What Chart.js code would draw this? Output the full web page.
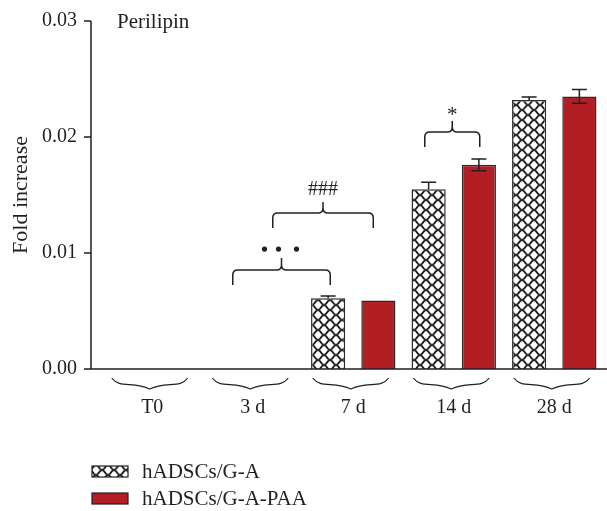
<!DOCTYPE html>
<html>
<head>
<meta charset="utf-8">
<script src="https://cdn.jsdelivr.net/npm/chart.js@4.4.0/dist/chart.umd.min.js"></script>
<style>
    html, body { margin: 0; padding: 0; background: #fff; }
    #wrap { width: 607px; height: 511px; }
</style>
</head>
<body>
<div id="wrap"><canvas id="barChart" width="607" height="511"></canvas></div>
<script>
// Data
const categories = ['T0', '3 d', '7 d', '14 d', '28 d'];
const seriesNames = ['hADSCs/G-A', 'hADSCs/G-A-PAA'];
const gaValues = [0, 0, 0.0061, 0.0155, 0.0232];
const gaErrors = [0, 0, 0.0002, 0.0006, 0.00025];
const paaValues = [0, 0, 0.0059, 0.0176, 0.0235];
const paaErrors = [0, 0, 0, 0.0005, 0.0006];
const yTickLabels = ['0.00', '0.01', '0.02', '0.03'];

const FONT = '"Liberation Serif", "Times New Roman", serif';
const INK = '#231f20';
const RED = '#b11f24';

// significance brackets: x as category index + pixel offset, y in data units
const brackets = [
    { from: [1, -20], to: [2, -23], top: 0.00853, end: 0.00724, peak: 0.00957, mark: 'dots', markY: 0.01034 },
    { from: [1, 20], to: [2, 20], top: 0.01345, end: 0.01216, peak: 0.0144, mark: '###', markY: 0.01543 },
    { from: [3, -29], to: [3, 26], top: 0.02043, end: 0.01914, peak: 0.02138, mark: '*', markY: 0.02233 }
];

const canvas = document.getElementById('barChart');
const mainCtx = canvas.getContext('2d');

function makeHatch() {
    const c = document.createElement('canvas');
    c.width = 12; c.height = 10;
    const g = c.getContext('2d');
    g.fillStyle = '#fff';
    g.fillRect(0, 0, 12, 10);
    g.strokeStyle = '#1a1a1a';
    g.lineWidth = 1.2;
    [[0, 0], [12, 0], [0, 10], [12, 10], [6, 5]].forEach(function(p) {
        g.beginPath();
        g.arc(p[0], p[1], 4.3, 0, Math.PI * 2);
        g.stroke();
    });
    return mainCtx.createPattern(c, 'repeat');
}
const hatch = makeHatch();

function curlyDown(ctx, x1, x2, y0, h) {
    const w = x2 - x1, cx = (x1 + x2) / 2;
    ctx.beginPath();
    ctx.moveTo(x1, y0);
    ctx.bezierCurveTo(x1 + 0.1 * w, y0 + 0.95 * h, cx - 0.22 * w, y0 + 0.3 * h, cx, y0 + h);
    ctx.bezierCurveTo(cx + 0.22 * w, y0 + 0.3 * h, x2 - 0.1 * w, y0 + 0.95 * h, x2, y0);
    ctx.stroke();
}

function bracketUp(ctx, x1, x2, yTop, yEnd, yPeak) {
    const r = 5, cx = (x1 + x2) / 2;
    ctx.beginPath();
    ctx.moveTo(x1, yEnd);
    ctx.lineTo(x1, yTop + r);
    ctx.quadraticCurveTo(x1, yTop, x1 + r, yTop);
    ctx.lineTo(cx - r, yTop);
    ctx.quadraticCurveTo(cx, yTop, cx, yTop - r);
    ctx.lineTo(cx, yPeak);
    ctx.moveTo(cx, yTop - r);
    ctx.quadraticCurveTo(cx, yTop, cx + r, yTop);
    ctx.lineTo(x2 - r, yTop);
    ctx.quadraticCurveTo(x2, yTop, x2, yTop + r);
    ctx.lineTo(x2, yEnd);
    ctx.stroke();
}

const decorations = {
    id: 'decorations',
    afterDatasetsDraw: function(chart) {
        const ctx = chart.ctx;
        const xs = chart.scales.x, ys = chart.scales.y;
        const area = chart.chartArea;
        const values = [gaValues, paaValues];
        const errors = [gaErrors, paaErrors];

        ctx.save();
        ctx.strokeStyle = INK;
        ctx.lineWidth = 1.5;

        // error bars
        [0, 1].forEach(function(d) {
            chart.getDatasetMeta(d).data.forEach(function(bar, i) {
                const err = errors[d][i];
                if (!err) return;
                const yt = ys.getPixelForValue(values[d][i] + err);
                const yb = d === 0 ? bar.y : ys.getPixelForValue(values[d][i] - err);
                ctx.beginPath();
                ctx.moveTo(bar.x, yb);
                ctx.lineTo(bar.x, yt);
                ctx.moveTo(bar.x - 7.5, yt);
                ctx.lineTo(bar.x + 7.5, yt);
                if (d === 1) {
                    ctx.moveTo(bar.x - 7.5, yb);
                    ctx.lineTo(bar.x + 7.5, yb);
                }
                ctx.stroke();
            });
        });

        // axes
        const axisX = 91;
        ctx.beginPath();
        ctx.moveTo(axisX, ys.getPixelForValue(0.03));
        ctx.lineTo(axisX, area.bottom);
        ctx.moveTo(axisX - 3, area.bottom);
        ctx.lineTo(chart.width, area.bottom);
        yTickLabels.forEach(function(t, i) {
            const y = ys.getPixelForValue(i * 0.01);
            ctx.moveTo(axisX - 7, y);
            ctx.lineTo(axisX, y);
        });
        ctx.stroke();

        // braces under each category
        ctx.lineWidth = 1.2;
        categories.forEach(function(c, i) {
            const cx = xs.getPixelForValue(i) - 2.5;
            curlyDown(ctx, cx - 38, cx + 38, area.bottom + 9, 11);
        });

        // significance brackets
        ctx.lineWidth = 1.5;
        ctx.fillStyle = INK;
        brackets.forEach(function(b) {
            const x1 = xs.getPixelForValue(b.from[0]) + b.from[1];
            const x2 = xs.getPixelForValue(b.to[0]) + b.to[1];
            const cx = (x1 + x2) / 2;
            bracketUp(ctx, x1, x2, ys.getPixelForValue(b.top), ys.getPixelForValue(b.end), ys.getPixelForValue(b.peak));
            const my = ys.getPixelForValue(b.markY);
            if (b.mark === 'dots') {
                [-17, -3, 15].forEach(function(dx) {
                    ctx.beginPath();
                    ctx.arc(cx + dx, my, 2.6, 0, Math.PI * 2);
                    ctx.fill();
                });
            } else if (b.mark === '*') {
                ctx.font = '21px ' + FONT;
                ctx.textAlign = 'center';
                ctx.textBaseline = 'alphabetic';
                ctx.fillText('*', cx, my + 11);
            } else {
                ctx.font = '20px ' + FONT;
                ctx.textAlign = 'center';
                ctx.textBaseline = 'middle';
                ctx.fillText(b.mark, cx, my);
            }
        });

        // panel label
        ctx.font = '21px ' + FONT;
        ctx.textAlign = 'left';
        ctx.textBaseline = 'alphabetic';
        ctx.fillText('Perilipin', 117, 28);

        // legend
        const fills = [hatch, RED];
        [0, 1].forEach(function(d) {
            const top = 466 + d * 27;
            ctx.fillStyle = fills[d];
            ctx.fillRect(92, top, 36, 11);
            ctx.lineWidth = 1.2;
            ctx.strokeStyle = INK;
            ctx.strokeRect(92, top, 36, 11);
            ctx.fillStyle = INK;
            ctx.fillText(seriesNames[d], 142, top + 12);
        });
        ctx.restore();
    }
};

new Chart(canvas, {
    type: 'bar',
    data: {
        labels: categories,
        datasets: [{
            label: seriesNames[0],
            data: gaValues,
            backgroundColor: hatch,
            borderColor: '#2b2b2b',
            borderWidth: 1.5
        }, {
            label: seriesNames[1],
            data: paaValues,
            backgroundColor: RED,
            borderColor: '#2b2b2b',
            borderWidth: 1.5
        }]
    },
    options: {
        responsive: false,
        animation: false,
        events: [],
        layout: {
            padding: { top: 21, right: 2.5, left: 0, bottom: 0 }
        },
        datasets: {
            bar: {
                categoryPercentage: 1.0,
                barPercentage: 0.68
            }
        },
        plugins: {
            legend: { display: false },
            tooltip: { enabled: false }
        },
        scales: {
            x: {
                grid: { display: false, drawTicks: false },
                border: { display: false },
                ticks: {
                    color: INK,
                    padding: 27,
                    font: { family: FONT, size: 20 }
                },
                afterFit: function(s) { s.height = 142; }
            },
            y: {
                min: 0,
                max: 0.03,
                grid: { display: false, drawTicks: false },
                border: { display: false },
                ticks: {
                    stepSize: 0.01,
                    color: INK,
                    padding: 25,
                    font: { family: FONT, size: 20 },
                    callback: function(v, i) { return yTickLabels[i]; }
                },
                title: {
                    display: true,
                    text: 'Fold increase',
                    color: INK,
                    font: { family: FONT, size: 22 },
                    padding: { top: 8, bottom: 0 }
                },
                afterFit: function(s) {
                    s.width = 102;
                    s.paddingTop = 0;
                    s.paddingBottom = 0;
                }
            }
        }
    },
    plugins: [decorations]
});
</script>
</body>
</html>
